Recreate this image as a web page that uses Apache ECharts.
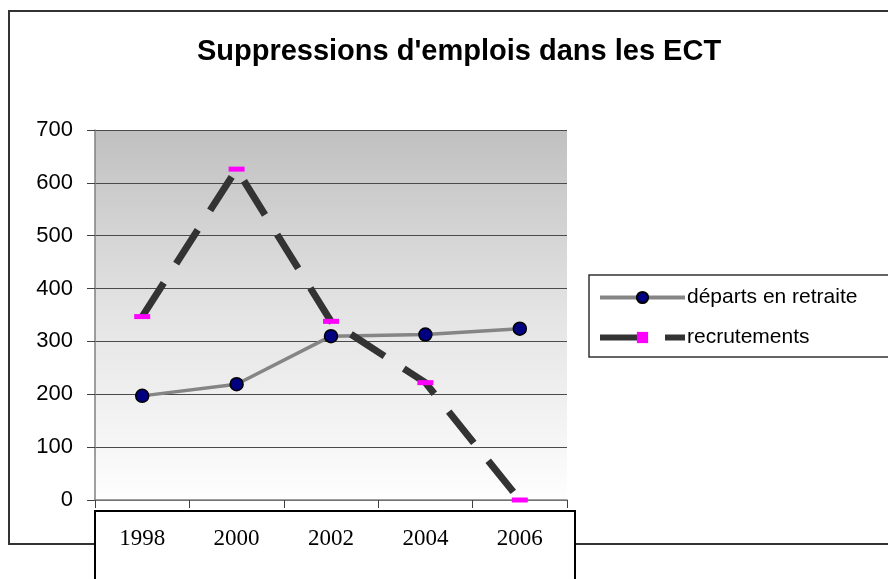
<!DOCTYPE html>
<html>
<head>
<meta charset="utf-8">
<script src="https://cdn.jsdelivr.net/npm/echarts@6/dist/echarts.min.js"></script>
<style>html,body{margin:0;padding:0;background:#fff;}#c{width:888px;height:579px;}</style>
</head>
<body>
<div id="c"></div>
<script>
var titleText = "Suppressions d'emplois dans les ECT";
var categories = ['1998', '2000', '2002', '2004', '2006'];
var seriesNames = ['départs en retraite', 'recrutements'];
var departs = [197, 219, 310, 313, 324];
var recrutements = [347, 626, 338, 222, 0];
var yTicks = {min: 0, max: 700, interval: 100};

var chart = echarts.init(document.getElementById('c'), null, {renderer: 'canvas'});
var sans = "'Liberation Sans', Arial, sans-serif";
var serif = "'Liberation Serif', 'Times New Roman', serif";
var magentaBar = 'path://M0,0H16V5H0Z';

chart.setOption({
  backgroundColor: '#ffffff',
  animation: false,
  title: {
    text: titleText,
    left: 454, top: 32, textAlign: 'center',
    textStyle: {fontFamily: sans, fontWeight: 'bold', fontSize: 29, color: '#000'}
  },
  graphic: [
    {type: 'rect', z: -10, shape: {x: 9, y: 11, width: 900, height: 533},
     style: {fill: '#fff', stroke: '#333', lineWidth: 2}},
    {type: 'rect', z: 1, shape: {x: 95, y: 511, width: 480, height: 100},
     style: {fill: '#fff', stroke: '#000', lineWidth: 2}},
    {type: 'rect', z: 1, shape: {x: 589, y: 275, width: 320, height: 82},
     style: {fill: '#fff', stroke: '#333', lineWidth: 1.5}}
  ],
  legend: {
    orient: 'vertical', left: 597, top: 287, itemGap: 19, padding: 0, z: 5,
    itemWidth: 85, itemHeight: 14, symbolKeepAspect: true,
    textStyle: {fontFamily: sans, fontSize: 21, color: '#000', padding: [0, 0, 0, -3]},
    data: [
      {name: seriesNames[0], lineStyle: {width: 4, color: '#858585'}},
      {name: seriesNames[1], lineStyle: {width: 6, color: '#333333', type: [41, 24], cap: 'butt'}}
    ]
  },
  grid: {
    left: 95, top: 130, right: 321, bottom: 79, show: true, borderWidth: 0,
    backgroundColor: new echarts.graphic.LinearGradient(0, 0, 0, 1, [
      {offset: 0, color: '#c0c0c0'}, {offset: 0.5, color: '#e4e4e4'}, {offset: 1, color: '#fefefe'}
    ])
  },
  xAxis: {
    type: 'category', data: categories, boundaryGap: true, z: 3,
    axisLine: {lineStyle: {color: '#808080', width: 1.5}},
    axisTick: {show: true, length: 8, lineStyle: {color: '#404040', width: 1}},
    axisLabel: {margin: 27, fontFamily: serif, fontSize: 23, color: '#000'},
    splitLine: {show: false}
  },
  yAxis: {
    type: 'value', min: yTicks.min, max: yTicks.max, interval: yTicks.interval,
    axisLine: {show: true, lineStyle: {color: '#808080', width: 1.5}},
    axisTick: {show: true, length: 8, lineStyle: {color: '#404040', width: 1}},
    axisLabel: {margin: 22, fontFamily: sans, fontSize: 22, color: '#000'},
    splitLine: {show: true, lineStyle: {color: '#4a4a4a', width: 1}}
  },
  series: [
    {
      name: seriesNames[0], type: 'line', data: departs, z: 3,
      symbol: 'circle', symbolSize: 13,
      lineStyle: {color: '#858585', width: 3.5},
      itemStyle: {color: '#000080', borderColor: '#000', borderWidth: 1.5}
    },
    {
      name: seriesNames[1], type: 'line', data: recrutements, z: 4,
      symbol: magentaBar, symbolSize: [16, 5], symbolKeepAspect: false,
      lineStyle: {color: '#333333', width: 7, type: [40, 23], cap: 'butt'},
      itemStyle: {color: '#ff00ff', borderWidth: 0}
    }
  ]
});
</script>
</body>
</html>
